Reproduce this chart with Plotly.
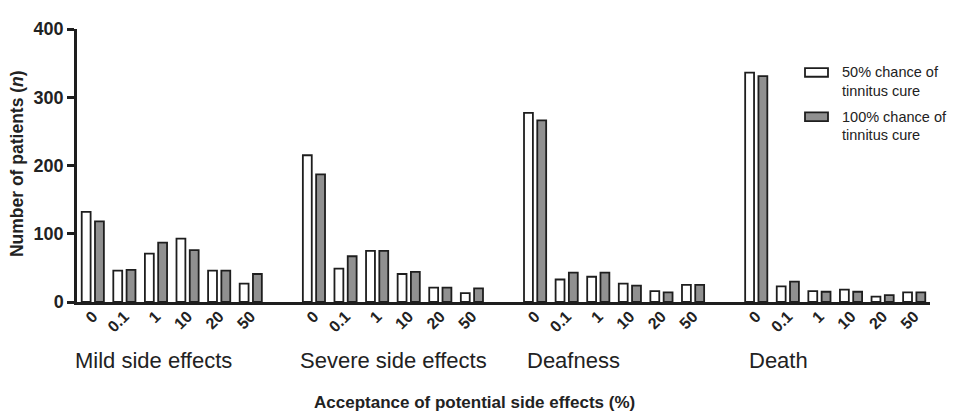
import plotly.graph_objects as go

groups = ["Mild side effects", "Severe side effects", "Deafness", "Death"]
levels = ["0", "0.1", "1", "10", "20", "50"]

cure50 = [
    [132, 46, 71, 93, 46, 27],
    [215, 49, 75, 41, 21, 13],
    [277, 33, 37, 27, 16, 25],
    [336, 23, 16, 18, 8, 14],
]
cure100 = [
    [118, 47, 87, 76, 46, 41],
    [187, 67, 75, 44, 21, 20],
    [266, 43, 43, 24, 14, 25],
    [331, 30, 15, 15, 10, 14],
]

series_names = ["50% chance of tinnitus cure", "100% chance of tinnitus cure"]
legend_lines = [["50% chance of", "tinnitus cure"], ["100% chance of", "tinnitus cure"]]
y_ticks = [0, 100, 200, 300, 400]

# page offset (browser body margin) and layout in window pixels
OFF = 8
W, H = 956, 415
L, R, T, B = 77, 26, 19, 113
PW, PH = W - L - R, H - T - B


def px(x):
    return (x - L) / PW


def py(y):
    return (H - B - y) / PH


slot = len(levels) + 1
xpos, ticktext, y50, y100 = [], [], [], []
for gi, g in enumerate(groups):
    for li, lv in enumerate(levels):
        xpos.append(gi * slot + li)
        ticktext.append(lv)
        y50.append(cure50[gi][li])
        y100.append(cure100[gi][li])

FONT = "Arial, Liberation Sans, sans-serif"
EDGE = "#1e1e1e"
TXT = "#222222"
FILLS = ["white", "#909090"]

fig = go.Figure()
fig.add_trace(go.Bar(x=xpos, y=y50, name=series_names[0],
                     marker=dict(color=FILLS[0], line=dict(color=EDGE, width=1.8))))
fig.add_trace(go.Bar(x=xpos, y=y100, name=series_names[1],
                     marker=dict(color=FILLS[1], line=dict(color=EDGE, width=1.8))))

fig.update_layout(
    width=W - OFF, height=H - OFF,
    margin=dict(l=L - OFF, r=R, t=T - OFF, b=B, pad=0),
    paper_bgcolor="white", plot_bgcolor="white",
    barmode="group", bargap=0.16, bargroupgap=0.33,
    font=dict(family=FONT, color=TXT),
    showlegend=False,
    xaxis=dict(range=[-0.5, slot * len(groups) - 1.5], tickmode="array",
               tickvals=xpos, ticktext=ticktext, tickangle=-45,
               tickfont=dict(size=16, family=FONT, color=TXT, weight="bold"),
               ticklabelstandoff=-4,
               showline=True, linecolor=EDGE, linewidth=2.5,
               ticks="", showgrid=False, zeroline=False),
    yaxis=dict(range=[0, 400], tickmode="array", tickvals=y_ticks,
               tickfont=dict(size=18, family=FONT, color=TXT, weight="bold"),
               showline=True, linecolor=EDGE, linewidth=2.5,
               ticks="outside", ticklen=7, tickwidth=2.5, tickcolor=EDGE,
               showgrid=False, zeroline=False),
)

# manual legend (wide rectangle keys like the reference)
key_y = [64, 110]
for i, (lines, ky) in enumerate(zip(legend_lines, key_y)):
    fig.add_shape(type="rect", xref="paper", yref="paper",
                  x0=px(805), x1=px(828), y0=py(ky - 4.5), y1=py(ky + 4.5),
                  fillcolor=FILLS[i], line=dict(color=EDGE, width=1.8))
    for j, t in enumerate(lines):
        fig.add_annotation(text=t, xref="paper", yref="paper", x=px(840),
                           y=py(ky + j * 19), xanchor="left", yanchor="middle",
                           showarrow=False, font=dict(size=14.5, family=FONT, color=TXT))

label_px = [72.7, 298.3, 525, 746.7]
for g, lx in zip(groups, label_px):
    fig.add_annotation(text=g, xref="paper", yref="paper", x=px(lx), y=py(363),
                       xanchor="left", yanchor="middle", showarrow=False,
                       font=dict(size=22, family=FONT, color=TXT))

fig.add_annotation(text="<b>Acceptance of potential side effects (%)</b>",
                   xref="paper", yref="paper", x=px(474), y=py(406),
                   xanchor="center", yanchor="middle", showarrow=False,
                   font=dict(size=17, family=FONT, color=TXT))
fig.add_annotation(text="<b>Number of patients (<i>n</i>)</b>",
                   xref="paper", yref="paper", x=px(17), y=py(159),
                   xanchor="center", yanchor="middle", showarrow=False, textangle=-90,
                   font=dict(size=17.5, family=FONT, color=TXT))

fig.write_html("out.html")
